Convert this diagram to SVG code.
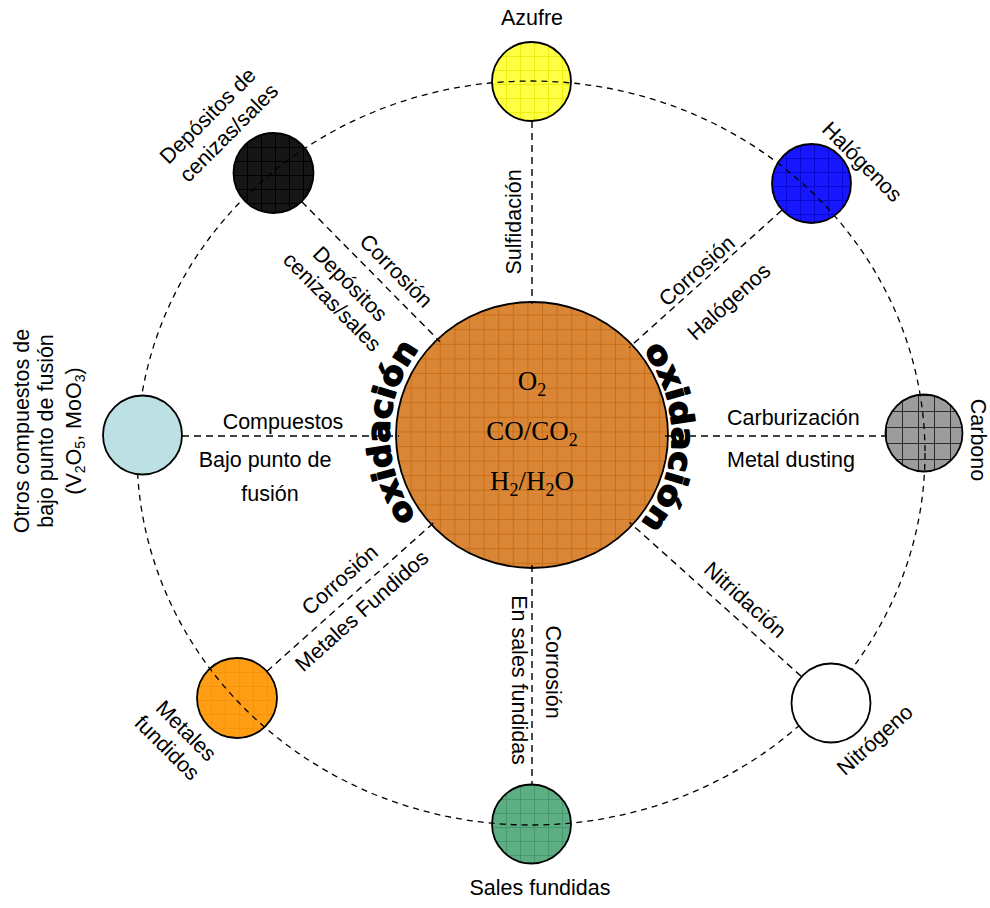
<svg xmlns="http://www.w3.org/2000/svg" width="990" height="908" viewBox="0 0 990 908">
<defs>
<style>
.lbl{font-family:"Liberation Sans",Arial,sans-serif;font-size:21.5px;fill:#000}
.chem{font-family:"Liberation Serif","Times New Roman",serif;font-size:27px;fill:#000}
.ox{font-family:"DejaVu Sans",Lato,sans-serif;font-weight:900;font-size:31px;fill:#000;stroke:#000;stroke-width:1.6;stroke-linejoin:round}
.dash{fill:none;stroke:#000;stroke-width:1.4;stroke-dasharray:7 5}
.orbit{fill:none;stroke:#000;stroke-width:1.3;stroke-dasharray:6 5}
.node{stroke:#000;stroke-width:1.8}
</style>
<pattern id="gCore" width="14.6" height="14.6" patternUnits="userSpaceOnUse" x="396" y="300">
<rect width="14.6" height="14.6" fill="#D98636"/>
<path d="M0 0.5H14.6M0.5 0V14.6" stroke="#CA6E18" stroke-width="1"/>
</pattern>
<pattern id="gYellow" width="14" height="14" patternUnits="userSpaceOnUse" x="492" y="42">
<rect width="14" height="14" fill="#FFFF46"/>
<path d="M0 0.5H14M0.5 0V14" stroke="#EEEE10" stroke-width="1"/>
</pattern>
<pattern id="gBlue" width="14" height="14" patternUnits="userSpaceOnUse" x="772" y="144">
<rect width="14" height="14" fill="#1616FF"/>
<path d="M0 0.5H14M0.5 0V14" stroke="#0808D0" stroke-width="1"/>
</pattern>
<pattern id="gBlack" width="14" height="14" patternUnits="userSpaceOnUse" x="233" y="133">
<rect width="14" height="14" fill="#161616"/>
<path d="M0 0.5H14M0.5 0V14" stroke="#000" stroke-width="1"/>
</pattern>
<pattern id="gGray" width="16" height="16" patternUnits="userSpaceOnUse" x="886" y="395">
<rect width="16" height="16" fill="#9C9C9C"/>
<path d="M0 0.5H16M0.5 0V16" stroke="#2A2A2A" stroke-width="1"/>
</pattern>
<pattern id="gGreen" width="14" height="14" patternUnits="userSpaceOnUse" x="492" y="785">
<rect width="14" height="14" fill="#5EAE84"/>
<path d="M0 0.5H14M0.5 0V14" stroke="#46996E" stroke-width="1"/>
</pattern>
<pattern id="gOrange" width="14" height="14" patternUnits="userSpaceOnUse" x="197" y="658">
<rect width="14" height="14" fill="#FF9E14"/>
<path d="M0 0.5H14M0.5 0V14" stroke="#F59408" stroke-width="1"/>
</pattern>
<path id="arcL" d="M416,517 A140,140 0 0 1 417.5,351"/>
<path id="arcR" d="M643.5,350.5 A140,140 0 0 1 640.5,523.5"/>
</defs>

<rect width="990" height="908" fill="#fff"/>

<!-- central atmosphere -->
<g id="core">
<ellipse cx="532" cy="435" rx="136" ry="133" fill="url(#gCore)" class="node"/>
<text class="chem" x="532" y="390" text-anchor="middle">O<tspan font-size="18" dy="6">2</tspan></text>
<text class="chem" x="532" y="440" text-anchor="middle">CO/CO<tspan font-size="18" dy="6">2</tspan></text>
<text class="chem" x="532" y="490" text-anchor="middle">H<tspan font-size="18" dy="6">2</tspan><tspan dy="-6">/H</tspan><tspan font-size="18" dy="6">2</tspan><tspan dy="-6">O</tspan></text>
</g>

<!-- species with hatched fill -->
<g id="azufre">
<circle cx="531.5" cy="81.5" r="39.5" fill="url(#gYellow)" class="node"/>
<text class="lbl" x="532" y="25" text-anchor="middle">Azufre</text>
</g>
<g id="halogenos">
<circle cx="811.5" cy="183.5" r="39.5" fill="url(#gBlue)" class="node"/>
<text class="lbl" transform="translate(862,162) rotate(45)" y="7" text-anchor="middle">Halógenos</text>
</g>
<g id="depositos">
<circle cx="273.5" cy="173" r="40" fill="url(#gBlack)" class="node"/>
<text class="lbl" transform="translate(208,116) rotate(-45)" y="7" text-anchor="middle">Depósitos de</text>
<text class="lbl" transform="translate(229,133) rotate(-45)" y="7" text-anchor="middle">cenizas/sales</text>
</g>
<g id="carbono">
<circle cx="924" cy="433" r="38.5" fill="url(#gGray)" class="node"/>
<text class="lbl" transform="translate(971,440) rotate(90)" text-anchor="middle">Carbono</text>
</g>
<g id="sales">
<circle cx="531.5" cy="824" r="39.5" fill="url(#gGreen)" class="node"/>
<text class="lbl" x="540" y="895" text-anchor="middle">Sales fundidas</text>
</g>
<g id="metales">
<circle cx="237" cy="698" r="40" fill="url(#gOrange)" class="node"/>
<text class="lbl" transform="translate(186,731) rotate(45)" y="7" text-anchor="middle">Metales</text>
<text class="lbl" transform="translate(167,748) rotate(45)" y="7" text-anchor="middle">fundidos</text>
</g>

<!-- outer orbit -->
<g id="orbit">
<ellipse cx="531" cy="453" rx="394" ry="372" class="orbit"/>
</g>

<!-- connectors -->
<g id="connectors">
<path class="dash" d="M532,121 V304"/>
<path class="dash" d="M781.8,210.3 L629.3,347.4"/>
<path class="dash" d="M301.6,201.5 L440,341.7"/>
<path class="dash" d="M182,436 H399"/>
<path class="dash" d="M665,436 H886"/>
<path class="dash" d="M266.8,671.4 L434.3,522.1"/>
<path class="dash" d="M801.2,676.3 L629.6,522.4"/>
<path class="dash" d="M532,565 V785"/>
</g>

<!-- plain species -->
<g id="otros">
<circle cx="142.5" cy="435" r="39.5" fill="#BCE0E4" class="node"/>
<text class="lbl" transform="translate(29,431) rotate(-90)" text-anchor="middle">Otros compuestos de</text>
<text class="lbl" transform="translate(53,431) rotate(-90)" text-anchor="middle">bajo punto de fusión</text>
<text class="lbl" transform="translate(81,431) rotate(-90)" text-anchor="middle">(V<tspan font-size="14" dy="4">2</tspan><tspan dy="-4">O</tspan><tspan font-size="14" dy="4">5</tspan><tspan dy="-4">, MoO</tspan><tspan font-size="14" dy="4">3</tspan><tspan dy="-4">)</tspan></text>
</g>
<g id="nitrogeno">
<circle cx="831" cy="703" r="39.5" fill="#fff" class="node"/>
<text class="lbl" transform="translate(875,740) rotate(-42)" y="7" text-anchor="middle">Nitrógeno</text>
</g>

<!-- reaction labels along connectors -->
<g id="reactions">
<text class="lbl" transform="translate(521,222) rotate(-90)" text-anchor="middle">Sulfidación</text>
<text class="lbl" transform="translate(697,271) rotate(-42)" y="7" text-anchor="middle">Corrosión</text>
<text class="lbl" transform="translate(729,302) rotate(-42)" y="7" text-anchor="middle">Halógenos</text>
<text class="lbl" transform="translate(396,271) rotate(45.4)" y="7" text-anchor="middle">Corrosión</text>
<text class="lbl" transform="translate(350,284) rotate(45.4)" y="7" text-anchor="middle">Depósitos</text>
<text class="lbl" transform="translate(332,302) rotate(45.4)" y="7" text-anchor="middle">cenizas/sales</text>
<text class="lbl" x="283" y="429" text-anchor="middle">Compuestos</text>
<text class="lbl" x="265" y="467" text-anchor="middle">Bajo punto de</text>
<text class="lbl" x="270" y="501" text-anchor="middle">fusión</text>
<text class="lbl" x="727" y="425">Carburización</text>
<text class="lbl" x="727" y="467">Metal dusting</text>
<text class="lbl" transform="translate(340,580) rotate(-41.7)" y="7" text-anchor="middle">Corrosión</text>
<text class="lbl" transform="translate(362,611) rotate(-41.7)" y="7" text-anchor="middle">Metales Fundidos</text>
<text class="lbl" transform="translate(546,672) rotate(90)" text-anchor="middle">Corrosión</text>
<text class="lbl" transform="translate(512,680) rotate(90)" text-anchor="middle">En sales fundidas</text>
<text class="lbl" transform="translate(745,600) rotate(41.9)" y="7" text-anchor="middle">Nitridación</text>
</g>

<!-- curved oxidation captions -->
<g id="oxidacion">
<text class="ox"><textPath href="#arcL" textLength="180" lengthAdjust="spacingAndGlyphs">oxidación</textPath></text>
<text class="ox"><textPath href="#arcR" textLength="186" lengthAdjust="spacingAndGlyphs">oxidación</textPath></text>
</g>
</svg>
